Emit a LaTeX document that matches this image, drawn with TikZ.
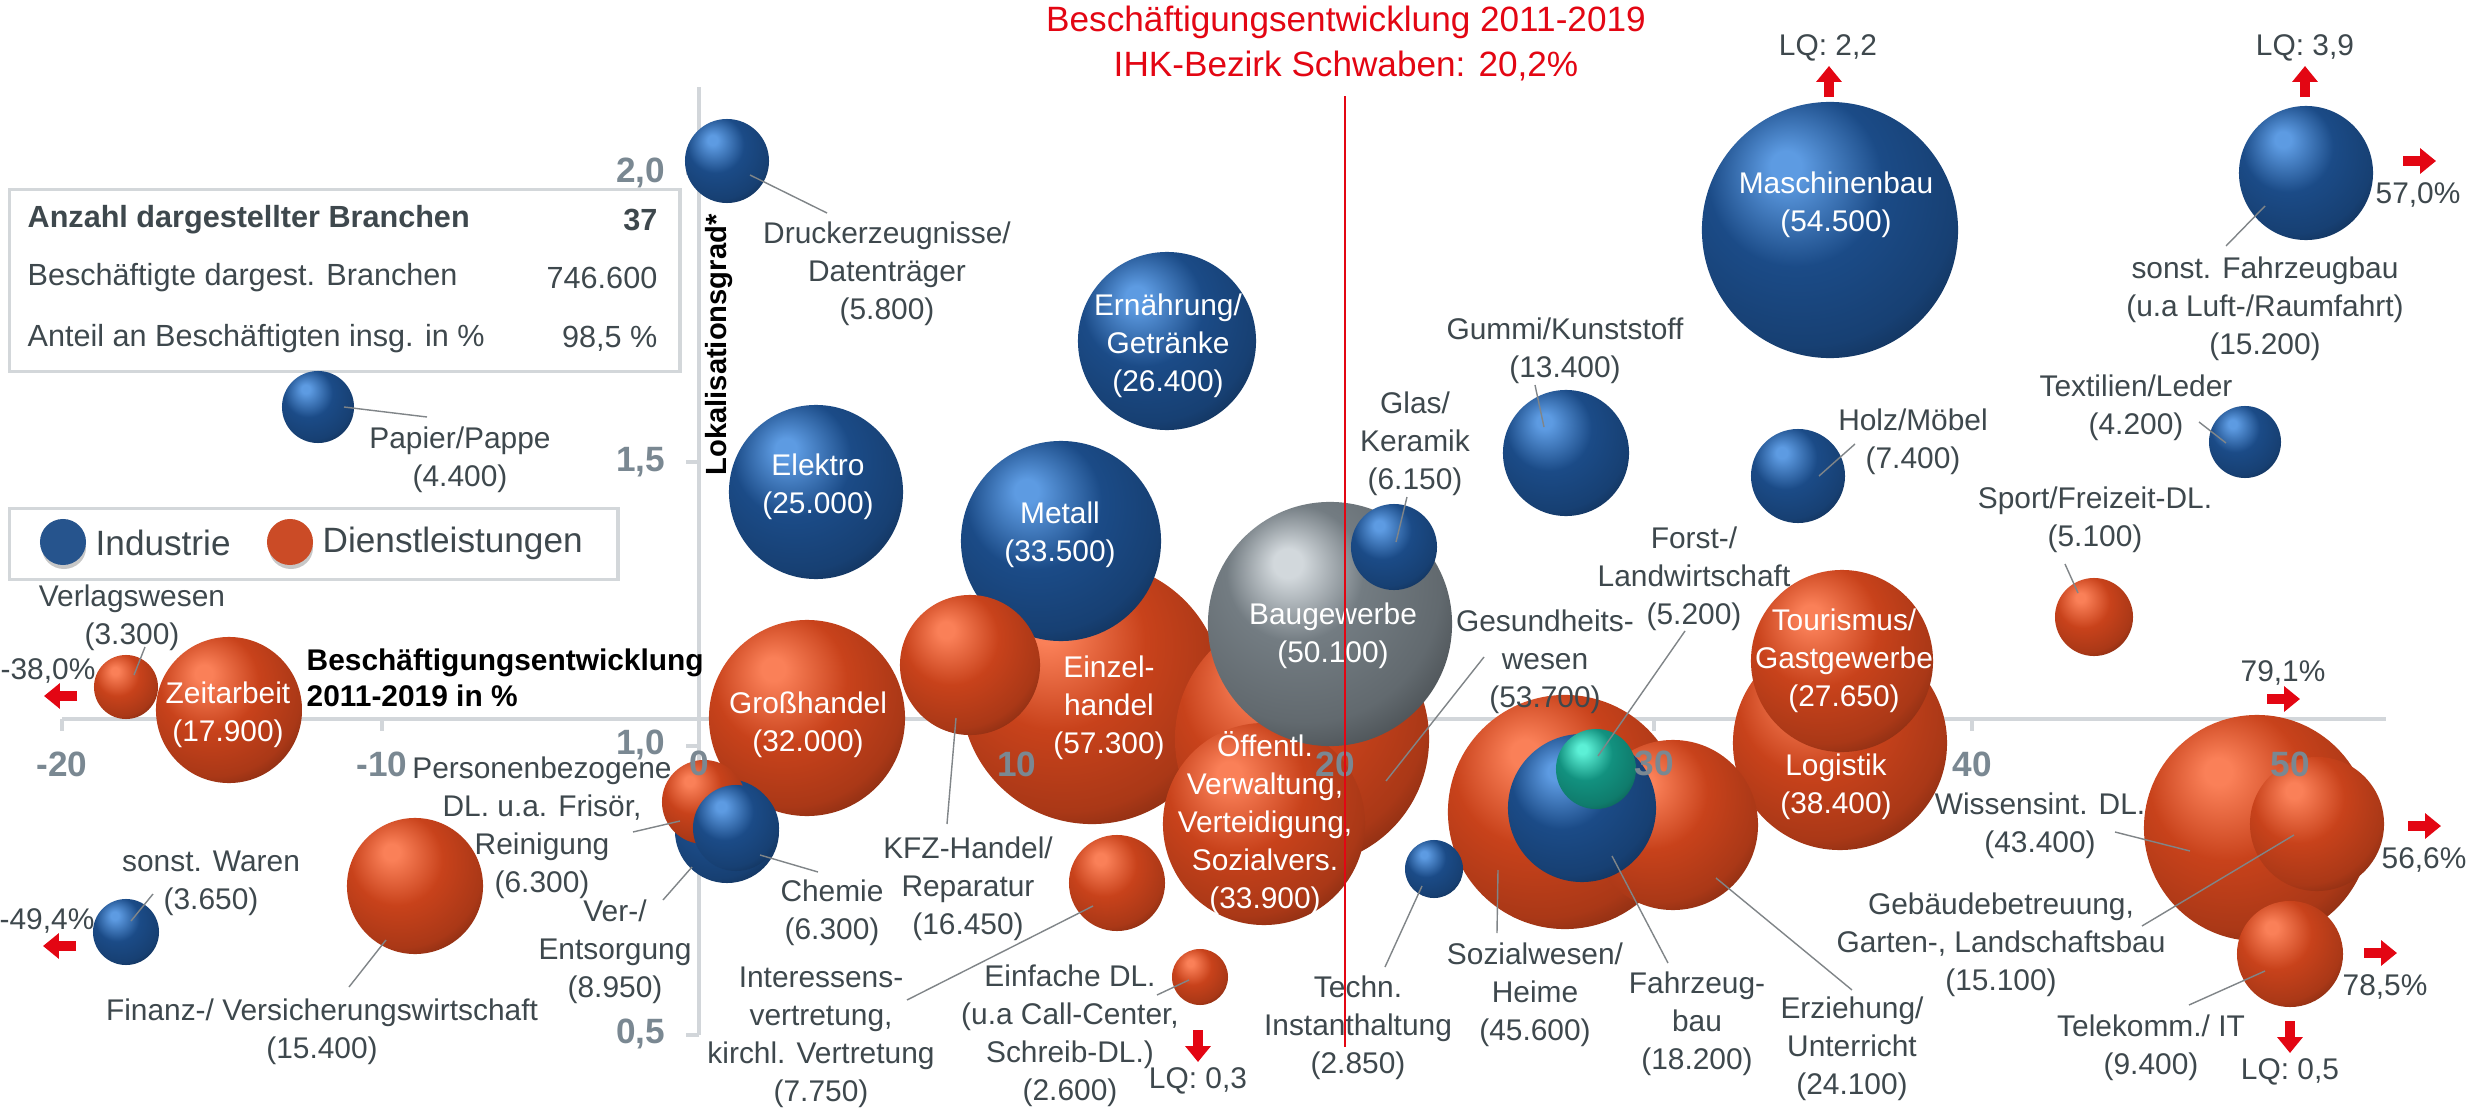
\documentclass[tikz,border=0pt]{standalone}
\usepackage{fontspec}
\setmainfont{Liberation Sans}
\usetikzlibrary{arrows.meta}
\definecolor{axisc}{HTML}{D2D6DA}
\definecolor{tickc}{HTML}{7A8892}
\definecolor{lblc}{HTML}{3E484D}
\definecolor{leadc}{HTML}{808588}
\definecolor{redc}{HTML}{E30613}
\definecolor{boxc}{HTML}{D3D7DA}
\definecolor{baseB}{HTML}{1B4B87}
\definecolor{hiB}{HTML}{5D9BE2}
\definecolor{baseO}{HTML}{C8421B}
\definecolor{hiO}{HTML}{FA8058}
\definecolor{baseG}{HTML}{737C82}
\definecolor{hiG}{HTML}{D2D8DC}
\definecolor{baseT}{HTML}{12917F}
\definecolor{hiT}{HTML}{5CF0D6}
\newcommand{\declbub}[3]{\pgfdeclareradialshading{#1}{\pgfqpoint{-9bp}{13bp}}{color(0bp)=(#3); color(3bp)=(#3); color(17bp)=(#2); color(30bp)=(#2!85!black); color(42bp)=(#2!45!black); color(54bp)=(#2!25!black); color(70bp)=(#2!25!black)}}
\declbub{shB}{baseB}{hiB}
\declbub{shO}{baseO}{hiO}
\declbub{shT}{baseT}{hiT}
\pgfdeclareradialshading{shG}{\pgfqpoint{-9bp}{13bp}}{color(0bp)=(hiG); color(3bp)=(hiG); color(14bp)=(baseG); color(28bp)=(baseG!85!black); color(40bp)=(baseG!50!black); color(54bp)=(baseG!30!black); color(70bp)=(baseG!30!black)}
\begin{document}
\begin{tikzpicture}[x=0.01cm,y=-0.01cm,
  lbl/.style={font=\fontsize{8.5}{10.8}\selectfont, text=lblc, align=center, inner sep=0pt},
  wlbl/.style={lbl, text=white},
  tickl/.style={font=\fontsize{10}{12}\selectfont\bfseries, text=tickc, inner sep=0pt},
  leader/.style={draw=leadc, line width=0.4pt},
  redarr/.style={draw=redc, line width=3pt, -{Triangle[length=4.5pt, width=7pt]}},
  bub/.style={circle, inner sep=0pt, draw=none, shade},
  bB/.style={bub, minimum size=#1*0.2mm, shading=shB},
  bO/.style={bub, minimum size=#1*0.2mm, shading=shO},
  bG/.style={bub, minimum size=#1*0.2mm, shading=shG},
  bT/.style={bub, minimum size=#1*0.2mm, shading=shT},
  axisline/.style={draw=axisc, line width=1.4pt},
  boxtxt/.style={font=\fontsize{8.7}{10.5}\selectfont, text=lblc, inner sep=0pt}]
\useasboundingbox (0,0) rectangle (2471,1109);
\fill[white] (0,0) rectangle (2471,1109);

% info box
\node[draw=boxc, line width=0.9pt, inner sep=0pt, anchor=north west, minimum width=670*0.1mm, minimum height=182*0.1mm] (infobox) at (8,188) {};
\node[boxtxt, anchor=west, font=\fontsize{8.7}{10.5}\selectfont\bfseries] (ib1) at (27,220) {Anzahl dargestellter Branchen};
\node[boxtxt, anchor=east, font=\fontsize{8.7}{10.5}\selectfont\bfseries] (ib1v) at (658,220) {37};
\node[boxtxt, anchor=west] (ib2) at (27,278) {Beschäftigte dargest. Branchen};
\node[boxtxt, anchor=east] (ib2v) at (658,278) {746.600};
\node[boxtxt, anchor=west] (ib3) at (27,339) {Anteil an Beschäftigten insg. in \%};
\node[boxtxt, anchor=east] (ib3v) at (658,339) {98,5 \%};

% legend
\node[draw=boxc, line width=0.9pt, inner sep=0pt, anchor=north west, minimum width=608*0.1mm, minimum height=71*0.1mm] (legbox) at (8,507) {};
\fill[black!22] (64,548) ellipse[x radius=22, y radius=21];
\fill[black!22] (291,548) ellipse[x radius=22, y radius=21];
\node[circle, inner sep=0pt, minimum size=46*0.1mm, fill=baseB!95!white] (legB) at (63,542) {};
\node[circle, inner sep=0pt, minimum size=46*0.1mm, fill=baseO!95!white] (legO) at (290,542) {};
\node[lbl, anchor=west, font=\fontsize{10}{12}\selectfont] (legBt) at (95,543) {Industrie};
\node[lbl, anchor=west, font=\fontsize{10}{12}\selectfont] (legOt) at (322,543) {Dienstleistungen};

% axes
\coordinate (xl) at (62,719);
\coordinate (xr) at (2386,719);
\coordinate (yt) at (699,87);
\coordinate (yb) at (699,1035);
\draw[axisline] (xl) -- (xr);
\draw[axisline] (yt) -- (yb);
\foreach \xx in {62,382,1017,1335,1654,1972,2290}{
  \draw[axisline] (\xx,719) -- (\xx,731);
}
\foreach \yy in {173,462,746,1035}{
  \draw[axisline] (686,\yy) -- (699,\yy);
}

% bubbles
\node[bO=131] (einzel) at (1092,693) {};
\node[bB=128] (masch) at (1830,230) {};
\node[bO=127] (gesund) at (1302,739) {};
\node[bO=117] (sozial) at (1565,812) {};
\node[bO=113] (wissen) at (2257,828) {};
\node[bO=107] (logist) at (1840,743) {};
\node[bO=101] (oeff) at (1264,824) {};
\node[bG=122] (bau) at (1330,624) {};
\node[bB=100] (metall) at (1061,541) {};
\node[bO=98] (gross) at (807,718) {};
\node[bO=91] (tour) at (1842,661) {};
\node[bB=89] (ernaehr) at (1167,341) {};
\node[bB=87] (elektro) at (816,492) {};
\node[bO=85] (erzieh) at (1673,825) {};
\node[bB=74] (fahrz) at (1582,808) {};
\node[bO=73] (zeit) at (229,710) {};
\node[bO=70] (kfz) at (970,665) {};
\node[bO=68] (finanz) at (415,886) {};
\node[bB=67] (sfahrz) at (2306,173) {};
\node[bO=67] (gebaeude) at (2317,824) {};
\node[bB=63] (gummi) at (1566,453) {};
\node[bO=53] (telek) at (2290,954) {};
\node[bB=52] (verent) at (727,831) {};
\node[bO=48] (inter) at (1117,883) {};
\node[bB=47] (holz) at (1798,476) {};
\node[bO=42] (person) at (704,802) {};
\node[bB=43] (chemie) at (736,828) {};
\node[bB=43] (glas) at (1394,547) {};
\node[bB=42] (druck) at (727,161) {};
\node[bT=40] (forst) at (1596,769) {};
\node[bO=39] (sport) at (2094,617) {};
\node[bB=36] (papier) at (318,407) {};
\node[bB=36] (textil) at (2245,442) {};
\node[bB=33] (swaren) at (126,932) {};
\node[bO=32] (verlag) at (126,687) {};
\node[bB=29] (techn) at (1434,869) {};
\node[bO=28] (einfach) at (1200,977) {};

% leader lines
\coordinate (d1a) at (750,175);   \coordinate (d1b) at (827,213);
\coordinate (d2a) at (344,407);   \coordinate (d2b) at (427,417);
\coordinate (d3a) at (1544,427);  \coordinate (d3b) at (1535,385);
\coordinate (d4a) at (1396,542);  \coordinate (d4b) at (1407,497);
\coordinate (d5a) at (1819,476);  \coordinate (d5b) at (1855,444);
\coordinate (d6a) at (2265,206);  \coordinate (d6b) at (2226,246);
\coordinate (d7a) at (2226,443);  \coordinate (d7b) at (2199,422);
\coordinate (d8a) at (2078,593);  \coordinate (d8b) at (2065,564);
\coordinate (d9a) at (1598,756);  \coordinate (d9b) at (1685,631);
\coordinate (d10a) at (1386,781); \coordinate (d10b) at (1484,657);
\coordinate (d11a) at (134,675);  \coordinate (d11b) at (145,647);
\coordinate (d12a) at (131,921);  \coordinate (d12b) at (153,894);
\coordinate (d13a) at (386,940);  \coordinate (d13b) at (349,987);
\coordinate (d14a) at (680,821);  \coordinate (d14b) at (633,832);
\coordinate (d15a) at (692,867);  \coordinate (d15b) at (663,900);
\coordinate (d16a) at (760,855);  \coordinate (d16b) at (818,872);
\coordinate (d17a) at (956,718);  \coordinate (d17b) at (947,824);
\coordinate (d18a) at (1093,906); \coordinate (d18b) at (907,1000);
\coordinate (d19a) at (1189,980); \coordinate (d19b) at (1157,995);
\coordinate (d20a) at (1422,886); \coordinate (d20b) at (1385,967);
\coordinate (d21a) at (1498,870); \coordinate (d21b) at (1497,933);
\coordinate (d22a) at (1612,856); \coordinate (d22b) at (1668,963);
\coordinate (d23a) at (1716,878); \coordinate (d23b) at (1852,990);
\coordinate (d24a) at (2190,851); \coordinate (d24b) at (2115,832);
\coordinate (d25a) at (2294,835); \coordinate (d25b) at (2142,926);
\coordinate (d26a) at (2265,971); \coordinate (d26b) at (2189,1005);
\foreach \i in {1,...,26}{\draw[leader] (d\i a) -- (d\i b);}

% outside labels
\node[lbl] (druckL) at (887,274) {Druckerzeugnisse/\\Datenträger\\(5.800)};
\node[lbl] (papierL) at (460,460) {Papier/Pappe\\(4.400)};
\node[lbl] (gummiL) at (1565,351) {Gummi/Kunststoff\\(13.400)};
\node[lbl] (glasL) at (1415,444) {Glas/\\Keramik\\(6.150)};
\node[lbl] (holzL) at (1913,442) {Holz/Möbel\\(7.400)};
\node[lbl] (sfahrzL) at (2265,309) {sonst. Fahrzeugbau\\(u.a Luft-/Raumfahrt)\\(15.200)};
\node[lbl] (textilL) at (2136,408) {Textilien/Leder\\(4.200)};
\node[lbl] (sportL) at (2095,520) {Sport/Freizeit-DL.\\(5.100)};
\node[lbl] (forstL) at (1694,579) {Forst-/\\Landwirtschaft\\(5.200)};
\node[lbl] (gesundL) at (1545,662) {Gesundheits-\\wesen\\(53.700)};
\node[lbl] (verlagL) at (132,618) {Verlagswesen\\(3.300)};
\node[lbl] (swarenL) at (211,883) {sonst. Waren\\(3.650)};
\node[lbl] (finanzL) at (322,1032) {Finanz-/ Versicherungswirtschaft\\(15.400)};
\node[lbl] (personL) at (542,828) {Personenbezogene\\DL. u.a. Frisör,\\Reinigung\\(6.300)};
\node[lbl] (verentL) at (615,952) {Ver-/\\Entsorgung\\(8.950)};
\node[lbl] (chemieL) at (832,913) {Chemie\\(6.300)};
\node[lbl] (kfzL) at (968,889) {KFZ-Handel/\\Reparatur\\(16.450)};
\node[lbl] (interL) at (821,1037) {Interessens-\\vertretung,\\kirchl. Vertretung\\(7.750)};
\node[lbl] (einfachL) at (1070,1036) {Einfache DL.\\(u.a Call-Center,\\Schreib-DL.)\\(2.600)};
\node[lbl] (technL) at (1358,1028) {Techn.\\Instanthaltung\\(2.850)};
\node[lbl] (sozialL) at (1535,995) {Sozialwesen/\\Heime\\(45.600)};
\node[lbl] (fahrzL) at (1697,1024) {Fahrzeug-\\bau\\(18.200)};
\node[lbl] (erziehL) at (1852,1049) {Erziehung/\\Unterricht\\(24.100)};
\node[lbl] (wissenL) at (2040,826) {Wissensint. DL.\\(43.400)};
\node[lbl] (gebaeudeL) at (2001,945) {Gebäudebetreuung,\\Garten-, Landschaftsbau\\(15.100)};
\node[lbl] (telekL) at (2151,1048) {Telekomm./ IT\\(9.400)};

% inside labels
\node[wlbl] (elektroL) at (818,487) {Elektro\\(25.000)};
\node[wlbl] (metallL) at (1060,535) {Metall\\(33.500)};
\node[wlbl] (ernaehrL) at (1168,346) {Ernährung/\\Getränke\\(26.400)};
\node[wlbl] (maschL) at (1836,205) {Maschinenbau\\(54.500)};
\node[wlbl] (grossL) at (808,725) {Großhandel\\(32.000)};
\node[wlbl] (zeitL) at (228,715) {Zeitarbeit\\(17.900)};
\node[wlbl] (einzelL) at (1109,708) {Einzel-\\handel\\(57.300)};
\node[wlbl] (bauL) at (1333,636) {Baugewerbe\\(50.100)};
\node[wlbl] (oeffL) at (1265,823) {Öffentl.\\Verwaltung,\\Verteidigung,\\Sozialvers.\\(33.900)};
\node[wlbl] (tourL) at (1844,661) {Tourismus/\\Gastgewerbe\\(27.650)};
\node[wlbl] (logistL) at (1836,787) {Logistik\\(38.400)};

% tick labels
\node[tickl, anchor=east] (y20) at (666,173) {2,0};
\node[tickl, anchor=east] (y15) at (666,462) {1,5};
\node[tickl, anchor=east] (y10) at (666,745) {1,0};
\node[tickl, anchor=east] (y05) at (666,1034) {0,5};
\node[tickl] (xm20) at (62,764) {-20};
\node[tickl] (xm10) at (382,764) {-10};
\node[tickl] (x0) at (699,763) {0};
\node[tickl] (x10) at (1017,764) {10};
\node[tickl] (x20) at (1335,764) {20};
\node[tickl] (x30) at (1654,763) {30};
\node[tickl] (x40) at (1972,764) {40};
\node[tickl] (x50) at (2290,764) {50};

% axis titles
\node[rotate=90, inner sep=0pt, font=\fontsize{8.3}{10}\selectfont\bfseries] (ytitle) at (719,345) {Lokalisationsgrad*};
\node[anchor=west, align=left, inner sep=0pt, font=\fontsize{8.5}{10.2}\selectfont\bfseries] (xtitle) at (306,678) {Beschäftigungsentwicklung\\2011-2019 in \%};

% reference line and title
\coordinate (rlt) at (1345,96);
\coordinate (rlb) at (1345,1047);
\draw[draw=redc, line width=0.75pt] (rlt) -- (rlb);
\node[align=center, inner sep=0pt, text=redc, font=\fontsize{10}{12.8}\selectfont] (title) at (1346,44) {Beschäftigungsentwicklung 2011-2019\\IHK-Bezirk Schwaben: 20,2\%};

% off-scale markers
\coordinate (a1s) at (1829,97);  \coordinate (a1e) at (1829,66);
\coordinate (a2s) at (2305,97);  \coordinate (a2e) at (2305,66);
\coordinate (a3s) at (2403,161); \coordinate (a3e) at (2436,161);
\coordinate (a4s) at (77,696);   \coordinate (a4e) at (44,696);
\coordinate (a5s) at (76,946);   \coordinate (a5e) at (43,946);
\coordinate (a6s) at (1198,1030);\coordinate (a6e) at (1198,1062);
\coordinate (a7s) at (2290,1021);\coordinate (a7e) at (2290,1053);
\coordinate (a8s) at (2267,699); \coordinate (a8e) at (2300,699);
\coordinate (a9s) at (2408,826); \coordinate (a9e) at (2441,826);
\coordinate (a10s) at (2364,953);\coordinate (a10e) at (2397,953);
\foreach \i in {1,...,10}{\draw[redarr] (a\i s) -- (a\i e);}
\node[lbl] (lq1) at (1828,48) {LQ: 2,2};
\node[lbl] (lq2) at (2305,48) {LQ: 3,9};
\node[lbl] (p57) at (2418,195) {57,0\%};
\node[lbl] (p38) at (48,671) {-38,0\%};
\node[lbl] (p49) at (47,921) {-49,4\%};
\node[lbl] (lq3) at (1198,1081) {LQ: 0,3};
\node[lbl] (lq4) at (2290,1072) {LQ: 0,5};
\node[lbl] (p79) at (2283,673) {79,1\%};
\node[lbl] (p56) at (2424,860) {56,6\%};
\node[lbl] (p78) at (2385,987) {78,5\%};
\end{tikzpicture}
\end{document}
